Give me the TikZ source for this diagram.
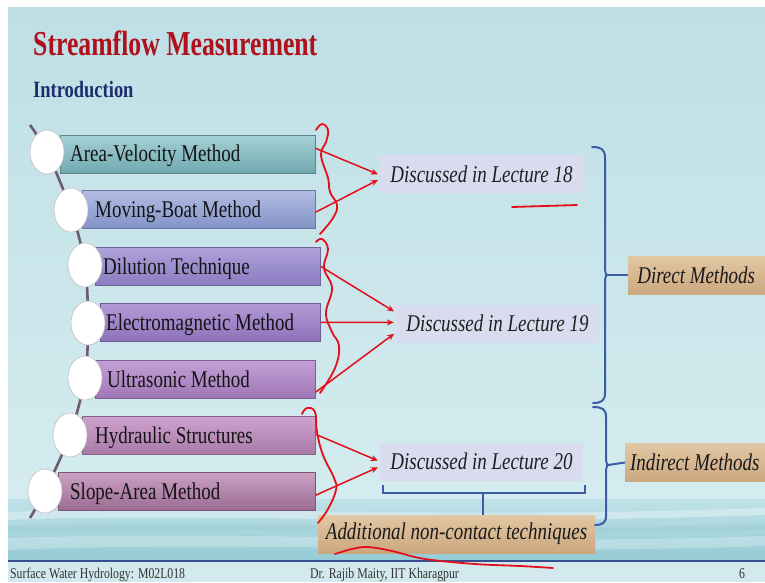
\documentclass[tikz,border=0pt]{standalone}
\usepackage{fontspec}
\setmainfont{Liberation Serif}[FakeStretch=0.79]
\newfontfamily\titlefont{Liberation Serif}[FakeStretch=0.735]
\usetikzlibrary{arrows.meta,shapes.geometric,calc}

\definecolor{bgtop}{HTML}{BEDFE5}
\definecolor{bgbot}{HTML}{D4ECEF}
\definecolor{wat1}{HTML}{C0E2E8}
\definecolor{wat2}{HTML}{94CBD4}
\definecolor{foot}{HTML}{D2E9ED}
\definecolor{titlered}{HTML}{B0101C}
\definecolor{navy}{HTML}{1C2C6C}
\definecolor{stem}{HTML}{6D5B75}
\definecolor{lec}{HTML}{D9DCEF}
\definecolor{tanA}{HTML}{E2C8A4}
\definecolor{tanB}{HTML}{CBA77E}
\definecolor{annred}{HTML}{E3101C}
\definecolor{brblue}{HTML}{3D5CA8}
\definecolor{aT}{HTML}{A4D1D5}\definecolor{aB}{HTML}{70A8B0}
\definecolor{bT}{HTML}{B2BDE3}\definecolor{bB}{HTML}{8393C7}
\definecolor{cT}{HTML}{AEA2DA}\definecolor{cB}{HTML}{8A7CC0}
\definecolor{dT}{HTML}{B39AD6}\definecolor{dB}{HTML}{8F72BA}
\definecolor{eT}{HTML}{C3A1D6}\definecolor{eB}{HTML}{9F76B5}
\definecolor{fT}{HTML}{CFA2D0}\definecolor{fB}{HTML}{A87AA8}
\definecolor{gT}{HTML}{CBA2C4}\definecolor{gB}{HTML}{9C6B92}

\tikzset{
  bar/.style n args={2}{top color=#1, bottom color=#2, draw=#2!80!black,
    line width=0.5pt, minimum height=38pt, inner sep=0pt, anchor=north west},
  bead/.style={ellipse, draw=black!25, line width=0.6pt, fill=white,
    minimum width=34pt, minimum height=44pt, inner sep=0pt},
  btxt/.style={anchor=base west, inner sep=0pt,
    font=\fontsize{24}{26}\selectfont, text=black!92},
  lecture/.style={fill=lec, minimum width=203pt, minimum height=38pt,
    inner sep=0pt, font=\fontsize{24}{26}\selectfont\itshape, text=black!88},
  tanbox/.style={top color=tanA, bottom color=tanB, minimum height=38pt,
    inner sep=0pt, font=\fontsize{24}{26}\selectfont\itshape, text=black!90},
  anno/.style={draw=annred, line width=1.8pt, line cap=round, line join=round},
  arr/.style={draw=annred, line width=1.5pt, -{Stealth[length=7pt,width=6pt]},
    shorten >=2pt},
  bl/.style={draw=brblue, line width=2pt},
  ftxt/.style={anchor=base west, inner sep=0pt,
    font=\fontsize{14.9}{16}\selectfont, text=black!80}
}

\begin{document}
\begin{tikzpicture}[x=1pt,y=-1pt]
\useasboundingbox (0,0) rectangle (765,582);

% slide background, water band and footer strip
\fill[white] (0,0) rectangle (765,582);
\fill[top color=bgtop, bottom color=bgbot] (8,7) rectangle (765,500);
\fill[top color=wat1, bottom color=wat2] (8,499) rectangle (765,560);
\fill[white, opacity=0.35] (8,512) .. controls (200,504) and (420,520) .. (765,508)
  -- (765,515) .. controls (420,527) and (200,512) .. (8,520) -- cycle;
\fill[white, opacity=0.25] (8,538) .. controls (250,530) and (500,546) .. (765,536)
  -- (765,546) .. controls (500,556) and (250,540) .. (8,550) -- cycle;
\fill[teal!40, opacity=0.35] (8,526) .. controls (300,520) and (500,532) .. (765,524)
  -- (765,530) .. controls (500,538) and (300,526) .. (8,532) -- cycle;
\fill[foot] (8,560) rectangle (765,582);
\draw[brblue!85!black, line width=2pt] (8,561) -- (765,561);

% titles
\node[anchor=base west, inner sep=0pt, text=titlered,
  font=\titlefont\fontsize{35}{38}\selectfont\bfseries] (title) at (33,55) {Streamflow Measurement};
\node[anchor=base west, inner sep=0pt, text=navy,
  font=\fontsize{23.4}{25}\selectfont\bfseries] (intro) at (33,97) {Introduction};

% stem of the list
\draw[stem, line width=2.6pt] plot[smooth] coordinates
  {(30,125) (47,152) (71,210) (85,265) (88,323) (85,378) (70,435) (45,491) (30,518)};

% list bars
\node[bar={aT}{aB}, minimum width=255pt] (b1) at (60,135) {};
\node[bar={bT}{bB}, minimum width=233pt] (b2) at (82,190) {};
\node[bar={cT}{cB}, minimum width=225pt] (b3) at (95,247) {};
\node[bar={dT}{dB}, minimum width=220pt] (b4) at (100,303) {};
\node[bar={eT}{eB}, minimum width=220pt] (b5) at (95,360) {};
\node[bar={fT}{fB}, minimum width=233pt] (b6) at (82,416) {};
\node[bar={gT}{gB}, minimum width=257pt] (b7) at (58,472) {};

% beads
\node[bead] (c1) at (47,152) {};
\node[bead] (c2) at (71,210) {};
\node[bead] (c3) at (85,265) {};
\node[bead] (c4) at (88,323) {};
\node[bead] (c5) at (85,378) {};
\node[bead] (c6) at (70,435) {};
\node[bead] (c7) at (45,491) {};

% bar labels
\node[btxt] (t1) at (70,161.5) {Area-Velocity Method};
\node[btxt] (t2) at (95,217.5) {Moving-Boat Method};
\node[btxt] (t3) at (103,274.5) {Dilution Technique};
\node[btxt] (t4) at (106,330) {Electromagnetic Method};
\node[btxt] (t5) at (107,387) {Ultrasonic Method};
\node[btxt] (t6) at (95,443) {Hydraulic Structures};
\node[btxt] (t7) at (70,499) {Slope-Area Method};

% lecture boxes
\node[lecture] (l18) at (481.5,174) {Discussed in Lecture 18};
\node[lecture] (l19) at (497.5,323.5) {Discussed in Lecture 19};
\node[lecture] (l20) at (481.5,461.5) {Discussed in Lecture 20};

% category boxes
\node[tanbox, anchor=west, minimum width=142pt] (dm) at (628,275) {\hspace*{-6pt}Direct Methods};
\node[tanbox, anchor=west, minimum width=145pt] (im) at (625,462.5) {\hspace*{-6pt}Indirect Methods};
\node[tanbox, minimum width=277pt] (add) at (456.5,534) {Additional non-contact techniques};

% braces
\coordinate (dtip) at (607,275);
\coordinate (itip) at (608,465);
\draw[bl, line cap=round] (592,147) .. controls (601,147) and (605,149) .. (605,158)
  -- (605,268) .. controls (605,272) and (606,275) .. (dtip)
  .. controls (606,275) and (605,278) .. (605,282)
  -- (605,393) .. controls (605,401) and (601,403) .. (593,403);
\draw[bl, line cap=round] (593,407) .. controls (602,407) and (606,409) .. (606,417)
  -- (606,458) .. controls (606,462) and (607,465) .. (itip)
  .. controls (607,465) and (606,468) .. (606,472)
  -- (606,516) .. controls (606,523) and (602,525) .. (595,525);
\draw[bl] (dtip) -- (dm.west);
\draw[bl] (itip) -- (im.west);
\coordinate (bmid) at (483,493);
\draw[bl] (383,485) -- (383,493) -- (585,493) -- (585,485);
\draw[bl] (bmid) -- (bmid |- add.north);

% red annotations
\draw[arr] ([yshift=6pt]b1.east) -- ([yshift=-1pt]l18.west);
\draw[arr] ([yshift=-3pt]b2.east) -- ([yshift=-5pt]l18.west);
\draw[arr] (b3.east) -- ([yshift=11pt]l19.west);
\draw[arr] (b4.east) -- ([yshift=1pt]l19.west);
\draw[arr] ([yshift=-13pt]b5.east) -- ([yshift=-9pt]l19.west);
\draw[arr] ([yshift=1pt]b6.east) -- (l20.west);
\draw[arr] ([yshift=-4pt]b7.east) -- ([yshift=-5pt]l20.west);

\draw[anno] plot[smooth, tension=0.7] coordinates
  {(316,130) (322,124) (328,130) (326,142) (321,155) (328,178) (330,192) (337,205) (333,218) (320,234)};
\draw[anno] plot[smooth, tension=0.7] coordinates
  {(316,242) (322,239) (328,249) (324,268) (332,288) (326,313) (332,332) (339,346) (335,368) (320,393)};
\draw[anno] plot[smooth, tension=0.7] coordinates
  {(302,414) (307,408) (315,412) (317,432) (323,455) (334,478) (336,490) (328,509) (318,523)};
\draw[anno] (512,207) -- (577,205);
\draw[anno] plot[smooth, tension=0.6] coordinates
  {(335,554) (352,549) (368,547) (392,551) (425,559) (475,564) (520,566) (553,568)};

% footer
\node[ftxt] (f1) at (10,578) {Surface Water Hydrology: M02L018};
\node[ftxt] (f2) at (310,578) {Dr. Rajib Maity, IIT Kharagpur};
\node[ftxt] (f3) at (739,578) {6};
\end{tikzpicture}
\end{document}
